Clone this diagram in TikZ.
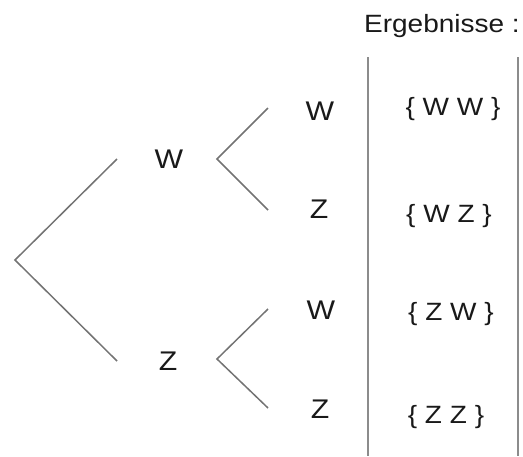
\documentclass[tikz,border=0pt]{standalone}
\usepackage{fontspec}
\setmainfont{Liberation Sans}[FakeStretch=1.12]
\begin{document}
\begin{tikzpicture}[x=1pt,y=-1pt,
  branch/.style={draw=black!55, line width=1.5pt},
  rule/.style={draw=black!45, line width=1.8pt},
  lbl/.style={inner sep=0pt, anchor=base, text=black!90, font=\fontsize{27}{27}\selectfont},
  res/.style={inner sep=0pt, anchor=base, text=black!90, font=\fontsize{25}{25}\selectfont}]
\useasboundingbox (0,0) rectangle (523,456);
% tree vertices and ends
\coordinate (r) at (15,260);
\coordinate (r1) at (117,159);
\coordinate (r2) at (117,361);
\coordinate (a) at (217,159);
\coordinate (a1) at (268,108);
\coordinate (a2) at (268,210);
\coordinate (b) at (217,359);
\coordinate (b1) at (268,309);
\coordinate (b2) at (268,408);
\draw[branch] (r1) -- (r) -- (r2);
\draw[branch] (a1) -- (a) -- (a2);
\draw[branch] (b1) -- (b) -- (b2);
% labels
\node[lbl] (w1) at (169,168) {W};
\node[lbl] (z1) at (168,370) {Z};
\node[lbl] (ww) at (320,120) {W};
\node[lbl] (wz) at (319,218) {Z};
\node[lbl] (zw) at (321,319) {W};
\node[lbl] (zz) at (320,418) {Z};
% results column
\coordinate (l1) at (368,57);
\coordinate (l2) at (368,456);
\coordinate (q1) at (518,57);
\coordinate (q2) at (518,456);
\draw[rule] (l1) -- (l2);
\draw[rule] (q1) -- (q2);
\node[res] (head) at (442,32) {Ergebnisse :};
\node[res] (s1) at (453,115) {\{ W W \}};
\node[res] (s2) at (449,222) {\{ W Z \}};
\node[res] (s3) at (451,320) {\{ Z W \}};
\node[res] (s4) at (446,423) {\{ Z Z \}};
\end{tikzpicture}
\end{document}
